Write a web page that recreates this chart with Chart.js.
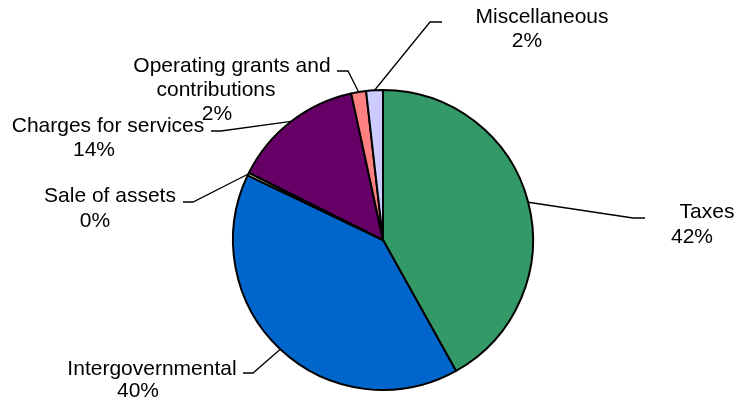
<!DOCTYPE html>
<html>
<head>
<meta charset="utf-8">
<script src="https://cdn.jsdelivr.net/npm/chart.js@4"></script>
<style>
  html, body { margin: 0; padding: 0; background: #fff; }
  #wrap { width: 739px; height: 402px; }
</style>
</head>
<body>
<div id="wrap"><canvas id="myChart" width="739" height="402"></canvas></div>
<script>
// data (share of revenue, %)
let categories = ['Taxes', 'Intergovernmental', 'Sale of assets', 'Charges for services', 'Operating grants and\ncontributions', 'Miscellaneous'];
let values = [41.9, 40.2, 0.3, 14.2, 1.6, 1.8];
let colors = ['#339966', '#0066CC', '#FFFFCC', '#660066', '#FF8080', '#CCCCFF'];

// where each label sits: line centres, baselines, leader elbow and end
let labelLayout = [
    { lines: [[707, 218], [692, 243]], elbow: [633, 218], end: [645, 218] },
    { lines: [[152, 375], [138, 397]], elbow: [253, 373], end: [243, 373] },
    { lines: [[110, 202], [95, 227]], elbow: [193, 202], end: [183, 202] },
    { lines: [[108, 132], [94, 156]], elbow: [221, 131], end: [211, 131] },
    { lines: [[232, 72], [216, 96], [217, 120]], elbow: [348, 71], end: [337, 71] },
    { lines: [[542, 23], [527, 47]], elbow: [430, 22], end: [442, 22] }
];

let total = values.reduce((a, b) => a + b, 0);

let pieLabels = {
    id: 'pieLabels',
    afterDatasetsDraw(chart)
    {
        let ctx = chart.ctx;
        let arcs = chart.getDatasetMeta(0).data;
        ctx.save();
        ctx.strokeStyle = '#000';
        ctx.lineWidth = 1.3;
        ctx.fillStyle = '#000';
        ctx.font = '21px "Liberation Sans", Arial, sans-serif';
        ctx.textAlign = 'center';
        ctx.textBaseline = 'alphabetic';
        arcs.forEach(function(arc, i)
        {
            let p = arc.getProps(['x', 'y', 'startAngle', 'endAngle', 'outerRadius'], true);
            let mid = (p.startAngle + p.endAngle) / 2;
            let sx = p.x + Math.cos(mid) * p.outerRadius;
            let sy = p.y + Math.sin(mid) * p.outerRadius;
            let lay = labelLayout[i];

            ctx.beginPath();
            ctx.moveTo(sx, sy);
            ctx.lineTo(lay.elbow[0], lay.elbow[1]);
            ctx.lineTo(lay.end[0], lay.end[1]);
            ctx.stroke();

            let texts = categories[i].split('\n');
            texts.push(Math.round(values[i] / total * 100) + '%');
            texts.forEach(function(t, j)
            {
                ctx.fillText(t, lay.lines[j][0], lay.lines[j][1]);
            });
        });
        ctx.restore();
    }
};

let ctx = document.getElementById('myChart').getContext('2d');

let myChart = new Chart(ctx,
{
    type: 'pie',
    data:
    {
        labels: categories,
        datasets:
        [{
            data: values,
            backgroundColor: colors,
            borderColor: '#000',
            borderWidth: 2
        }]
    },
    options:
    {
        responsive: false,
        animation: false,
        devicePixelRatio: 1,
        layout: { padding: { left: 232, right: 205, top: 89, bottom: 11 } },
        plugins:
        {
            legend: { display: false },
            tooltip: { enabled: false }
        }
    },
    plugins: [pieLabels]
});
</script>
</body>
</html>
